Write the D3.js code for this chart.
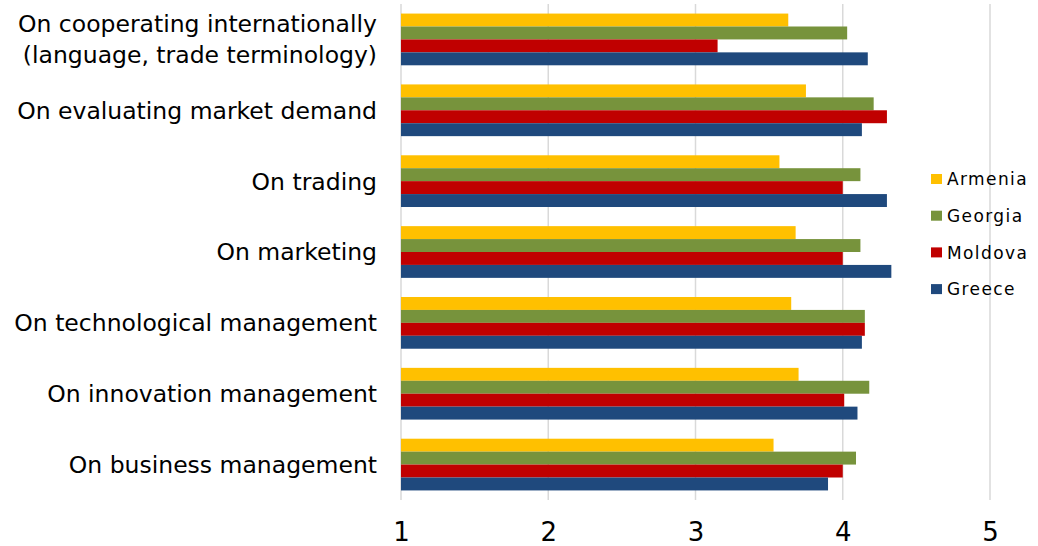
<!DOCTYPE html>
<html>
<head>
<meta charset="utf-8">
<script src="https://cdn.jsdelivr.net/npm/d3@7"></script>
<style>
  body { margin: 0; background: #fff; }
  svg { display: block; }
  .cat { font-family: "DejaVu Sans", sans-serif; font-size: 23.5px; fill: #000; }
  .tick text { font-family: "DejaVu Sans", sans-serif; font-size: 26px; fill: #000; }
  .legend text { font-family: "DejaVu Sans", sans-serif; font-size: 17px; letter-spacing: 1.4px; fill: #000; }
</style>
</head>
<body>
<script>
var categories = [
  ["On cooperating internationally", "(language, trade terminology)"],
  ["On evaluating market demand"],
  ["On trading"],
  ["On marketing"],
  ["On technological management"],
  ["On innovation management"],
  ["On business management"]
]
var countries = ["Armenia", "Georgia", "Moldova", "Greece"]
var armenia = [3.63, 3.75, 3.57, 3.68, 3.65, 3.70, 3.53]
var georgia = [4.03, 4.21, 4.12, 4.12, 4.15, 4.18, 4.09]
var moldova = [3.15, 4.30, 4.00, 4.00, 4.15, 4.01, 4.00]
var greece  = [4.17, 4.13, 4.30, 4.33, 4.13, 4.10, 3.90]
var xTicks = [1, 2, 3, 4, 5]
var colors = ["#FFC000", "#77933C", "#C00000", "#1F497D"]

var series = [armenia, georgia, moldova, greece]
var width = 1038, height = 546
var margin = {top: 4, left: 401, right: 48, bottom: 46}

var svg = d3.select("body").append("svg")
    .attr("width", width).attr("height", height)

var x = d3.scaleLinear().domain([1, 5]).range([margin.left, width - margin.right])
var y = d3.scaleBand().domain(d3.range(categories.length))
    .range([margin.top, height - margin.bottom]).paddingInner(0.27).paddingOuter(0.135)
var y1 = d3.scaleBand().domain(d3.range(countries.length)).range([0, y.bandwidth()])

// gridlines
svg.append("g").selectAll("line").data(xTicks).enter().append("line")
    .attr("x1", function(d) { return x(d) }).attr("x2", function(d) { return x(d) })
    .attr("y1", margin.top).attr("y2", height - margin.bottom)
    .attr("stroke", "#d9d9d9").attr("stroke-width", 1.5)

// bars
var groups = svg.append("g").selectAll("g").data(categories).enter().append("g")
    .attr("transform", function(d, i) { return "translate(0," + y(i) + ")" })

groups.selectAll("rect").data(function(d, i) {
    return series.map(function(s, j) { return {k: j, v: s[i]} })
  }).enter().append("rect")
    .attr("x", x(1))
    .attr("y", function(d) { return y1(d.k) })
    .attr("height", y1.bandwidth())
    .attr("width", function(d) { return x(d.v) - x(1) })
    .attr("fill", function(d) { return colors[d.k] })

// category labels
groups.each(function(d, i) {
  var g = d3.select(this)
  var lh = 31
  var c = y.bandwidth() / 2
  d.forEach(function(line, k) {
    g.append("text").attr("class", "cat")
      .attr("x", 377).attr("text-anchor", "end")
      .attr("y", c + (k - (d.length - 1) / 2) * lh)
      .attr("dy", "0.36em")
      .text(line)
  })
})

// x axis
var xAxis = svg.append("g")
    .attr("transform", "translate(0," + (height - margin.bottom) + ")")
    .call(d3.axisBottom(x).tickValues(xTicks).tickFormat(d3.format("d")).tickSize(0).tickPadding(23))
xAxis.select(".domain").remove()

// legend
var legend = svg.append("g").attr("class", "legend")
    .selectAll("g").data(countries).enter().append("g")
    .attr("transform", function(d, i) { return "translate(931," + (174 + i * 36.7) + ")" })
legend.append("rect").attr("width", 11).attr("height", 10)
    .attr("fill", function(d, i) { return colors[i] })
legend.append("text").attr("x", 16).attr("y", 5).attr("dy", "0.36em").text(function(d) { return d })
</script>
</body>
</html>
